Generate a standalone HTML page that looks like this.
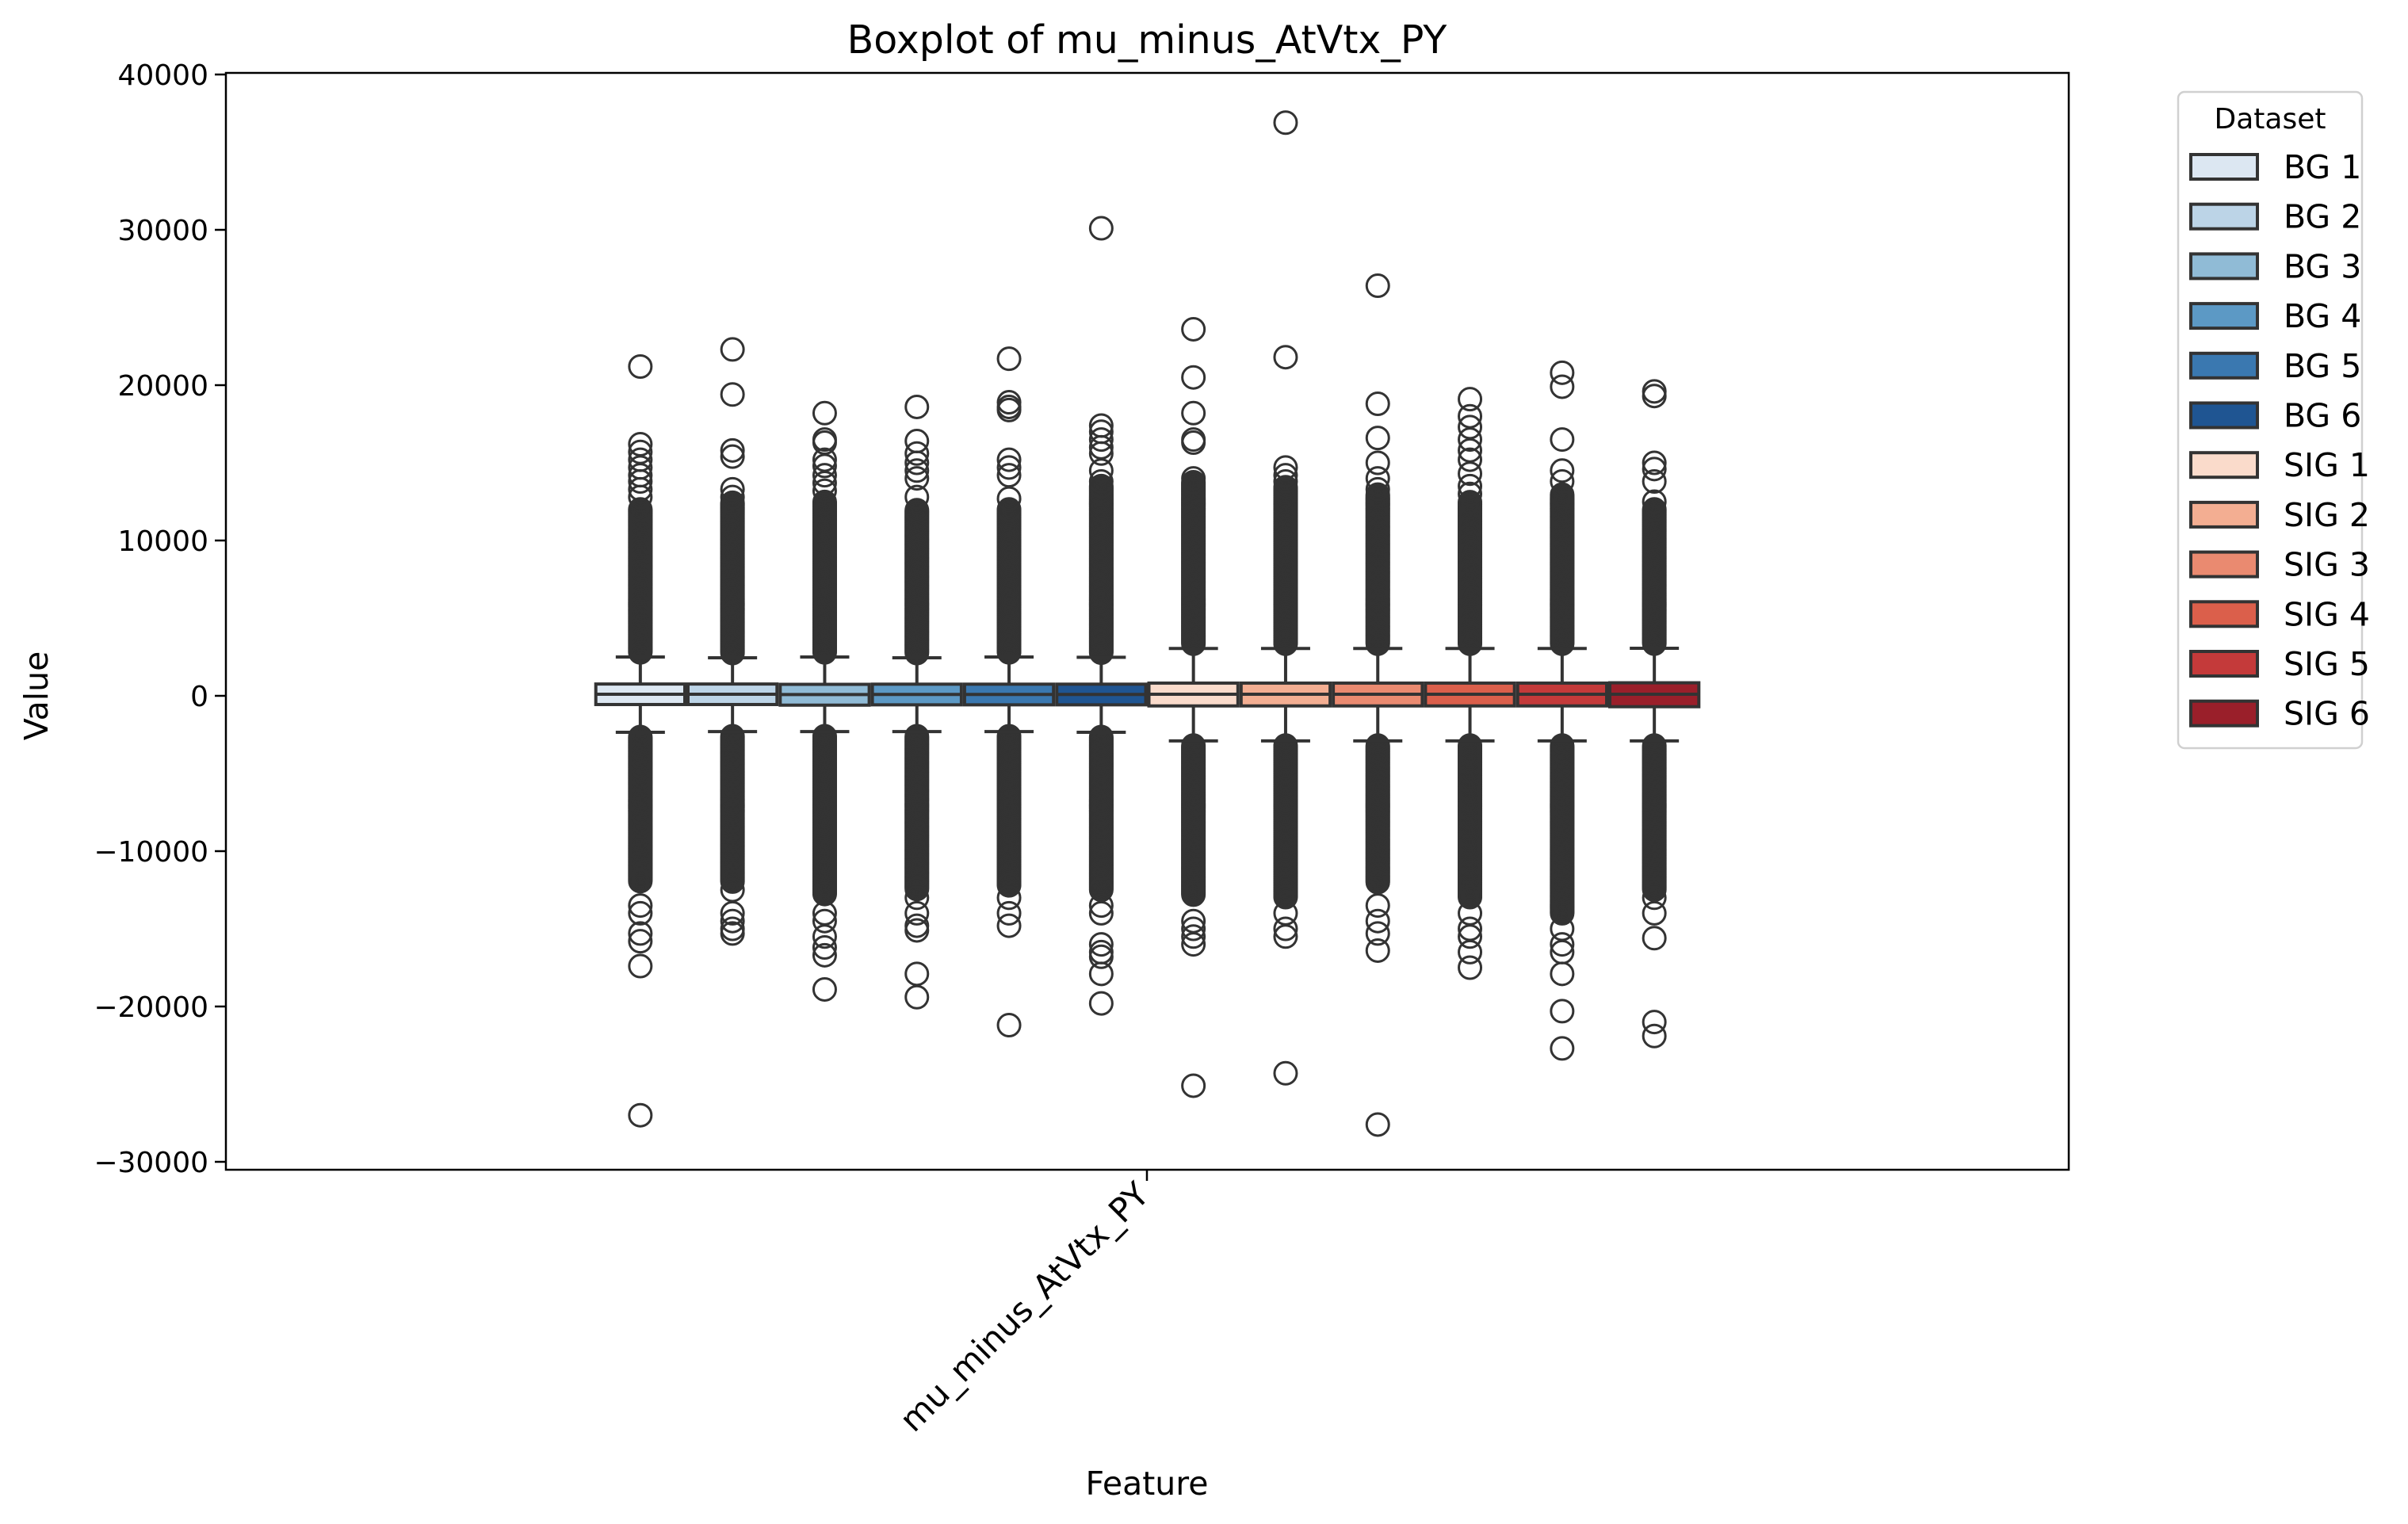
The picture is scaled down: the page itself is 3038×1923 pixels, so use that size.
<!DOCTYPE html>
<html><head><meta charset="utf-8"><style>
html,body{margin:0;padding:0;background:#fff;}
svg{display:block;font-family:"DejaVu Sans","Liberation Sans",sans-serif;}
</style></head><body>
<svg id="chart" width="3038" height="1923" viewBox="0 0 3038 1923" xmlns="http://www.w3.org/2000/svg">
<rect x="0" y="0" width="3038" height="1923" fill="#fff"/>
<text x="1447" y="67" font-size="49" text-anchor="middle">Boxplot of mu_minus_AtVtx_PY</text>
<g id="marks"></g>
<g id="axes"></g>
<text x="0" y="0" transform="translate(60,878) rotate(-90)" font-size="41" text-anchor="middle">Value</text>
<text x="1447" y="1886" font-size="41" text-anchor="middle">Feature</text>
<text x="0" y="0" transform="translate(1452,1510) rotate(-45)" font-size="42" text-anchor="end">mu_minus_AtVtx_PY</text>
<g id="legend"></g>
</svg>
<script>
const labels = ["BG 1","BG 2","BG 3","BG 4","BG 5","BG 6","SIG 1","SIG 2","SIG 3","SIG 4","SIG 5","SIG 6"];
const colors = ["#dce7f2","#bcd4e7","#90bbd6","#5c99c5","#3a78b0","#1f5592","#fadbcb","#f3ae92","#ea8a70","#db5f4b","#c43a3a","#9a1f2a"];
const q1 = [-560,-560,-600,-580,-580,-580,-650,-650,-650,-650,-650,-700];
const medians = [100,100,80,90,90,90,100,100,100,100,100,100];
const q3 = [760,760,740,750,750,750,820,820,820,820,820,840];
const whiskerHigh = [2500,2450,2500,2450,2500,2480,3050,3050,3050,3050,3050,3060];
const whiskerLow = [-2350,-2300,-2300,-2300,-2300,-2350,-2900,-2900,-2900,-2900,-2900,-2900];
const denseHigh = [12000,12500,12500,12000,12000,13500,13800,13500,13000,12500,13000,12000];
const denseLow = [-12000,-12000,-12800,-12500,-12200,-12500,-12800,-13000,-12000,-13000,-14000,-12500];
const fliersHigh = [
 [21200,16200,15700,15200,14700,14200,13800,13300,12800],
 [22300,19400,15800,15400,13300,12800],
 [18200,16500,16300,15200,14800,14200,13700,13200],
 [18600,16400,15600,15000,14500,14000,12800],
 [21700,18900,18600,18400,15200,14700,14200,12700],
 [30100,17400,17000,16500,16000,15600,14500,13800],
 [23600,20500,18200,16500,16300,14000],
 [36900,21800,14700,14200,13800],
 [26400,18800,16600,15000,14000,13300],
 [19100,18000,17300,16500,15800,15200,14300,13500,13000],
 [20800,19900,16500,14500,13800],
 [19600,19300,15000,14600,13800,12500]
];
const fliersLow = [
 [-13500,-14000,-15300,-15800,-17400,-27000],
 [-12500,-14000,-14500,-15000,-15300],
 [-14000,-14500,-15500,-16200,-16700,-18900],
 [-13000,-14000,-14800,-15100,-17900,-19400],
 [-13000,-14000,-14800,-21200],
 [-13500,-14000,-16000,-16500,-16800,-17900,-19800],
 [-14500,-15000,-15500,-16000,-25100],
 [-14000,-15000,-15500,-24300],
 [-13500,-14500,-15300,-16400,-27600],
 [-14000,-15000,-15500,-16500,-17500],
 [-15000,-16000,-16500,-17900,-20300,-22700],
 [-13000,-14000,-15600,-21000,-21900]
];
const yTicks = [40000,30000,20000,10000,0,-10000,-20000,-30000];
const yTickLabels = ["40000","30000","20000","10000","0","\u221210000","\u221220000","\u221230000"];

const NS = "http://www.w3.org/2000/svg";
const L = 285, R = 2610, T = 92, B = 1476;
function yScale(v){ return 878 - v * 0.0196; }
const slot = 116.3, groupLeft = 1447.5 - slot * labels.length / 2;
function xScale(i){ return groupLeft + slot * (i + 0.5); }
function mk(tag, attrs, parent){ const e = document.createElementNS(NS, tag); for (const k in attrs) e.setAttribute(k, attrs[k]); parent.appendChild(e); return e; }

const marks = document.getElementById('marks');
const axes = document.getElementById('axes');
const legend = document.getElementById('legend');
const st = "#333333";

labels.forEach((lab, i) => {
  const g = mk('g', {}, marks);
  
  
  const cx = xScale(i);
  for (let v = whiskerHigh[i] + 300; v <= denseHigh[i]; v += 80) {
    const c = mk('circle', {cx: cx, cy: yScale(v), r: 14, fill: 'none', stroke: st, 'stroke-width': 3}, g);
    
    
  }
  for (let v = whiskerLow[i] - 300; v >= denseLow[i]; v -= 80) {
    const c = mk('circle', {cx: cx, cy: yScale(v), r: 14, fill: 'none', stroke: st, 'stroke-width': 3}, g);
    
    
  }
  fliersHigh[i].concat(fliersLow[i]).forEach(v => {
    const c = mk('circle', {cx: cx, cy: yScale(v), r: 14, fill: 'none', stroke: st, 'stroke-width': 3}, g);
    
    
  });
  const w1 = mk('line', {x1: cx, x2: cx, y1: yScale(q3[i]), y2: yScale(whiskerHigh[i]), stroke: st, 'stroke-width': 4}, g);
  
  
  const w2 = mk('line', {x1: cx, x2: cx, y1: yScale(q1[i]), y2: yScale(whiskerLow[i]), stroke: st, 'stroke-width': 4}, g);
  
  
  const c1 = mk('line', {x1: cx - 31, x2: cx + 31, y1: yScale(whiskerHigh[i]), y2: yScale(whiskerHigh[i]), stroke: st, 'stroke-width': 4}, g);
  
  
  const c2 = mk('line', {x1: cx - 31, x2: cx + 31, y1: yScale(whiskerLow[i]), y2: yScale(whiskerLow[i]), stroke: st, 'stroke-width': 4}, g);
  
  
  const bx = mk('rect', {x: cx - slot / 2 + 2, y: yScale(q3[i]), width: slot - 4, height: yScale(q1[i]) - yScale(q3[i]), fill: colors[i], stroke: st, 'stroke-width': 4}, g);
  
  
  const md = mk('line', {x1: cx - slot / 2 + 2, x2: cx + slot / 2 - 2, y1: yScale(medians[i]), y2: yScale(medians[i]), stroke: st, 'stroke-width': 4}, g);
  
  
});

const frame = mk('rect', {x: L, y: T, width: R - L, height: B - T, fill: 'none', stroke: '#000', 'stroke-width': 2.5}, axes);


yTicks.forEach((v, k) => {
  const y = yScale(v);
  const t = mk('line', {x1: L - 14, x2: L, y1: y, y2: y, stroke: '#000', 'stroke-width': 2.5}, axes);
  
  
  const tx = mk('text', {x: L - 22, y: y + 13, 'font-size': 36, 'text-anchor': 'end'}, axes);
  tx.textContent = yTickLabels[k];
  
  
});
const xt = mk('line', {x1: 1447, x2: 1447, y1: B, y2: B + 14, stroke: '#000', 'stroke-width': 2.5}, axes);



const lb = mk('rect', {x: 2748, y: 116, width: 232, height: 828, rx: 8, fill: '#fff', stroke: '#d0d0d0', 'stroke-width': 2.5}, legend);


const lt = mk('text', {x: 2864, y: 162, 'font-size': 36, 'text-anchor': 'middle'}, legend);
lt.textContent = 'Dataset';


labels.forEach((lab, i) => {
  const y = 195 + i * 62.7;
  const eg = mk('g', {}, legend);
  
  
  mk('rect', {x: 2764, y: y, width: 84, height: 31, fill: colors[i], stroke: st, 'stroke-width': 4}, eg);
  const t = mk('text', {x: 2881, y: y + 30, 'font-size': 41}, eg);
  t.textContent = lab;
});
</script>
</body></html>
